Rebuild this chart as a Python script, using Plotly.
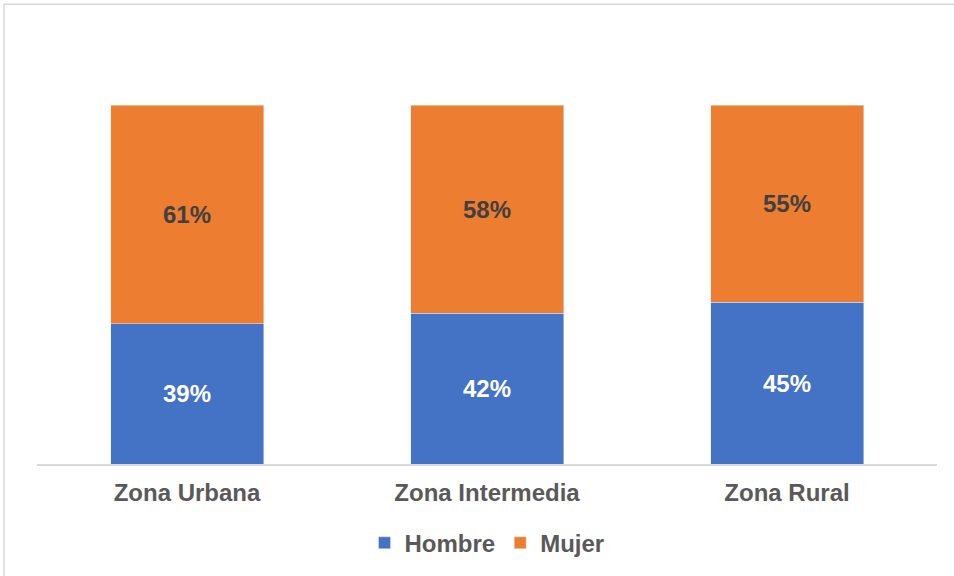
import plotly.graph_objects as go

categories = ["Zona Urbana", "Zona Intermedia", "Zona Rural"]
hombre = [39, 42, 45]
mujer = [61, 58, 55]
hombre_labels = ["39%", "42%", "45%"]
mujer_labels = ["61%", "58%", "55%"]

FONT = "Liberation Sans, Arial, sans-serif"

fig = go.Figure()
fig.add_trace(go.Bar(
    name="<b>Hombre</b>", x=categories, y=hombre, marker_color="#4472C4",
    text=hombre_labels, textposition="inside", insidetextanchor="middle",
    textfont=dict(family=FONT, size=24, color="#FFFFFF"),
    texttemplate="<b>%{text}</b>", width=0.51,
))
fig.add_trace(go.Bar(
    name="<b>Mujer</b>", x=categories, y=mujer, marker_color="#ED7D31",
    text=mujer_labels, textposition="inside", insidetextanchor="middle",
    textfont=dict(family=FONT, size=24, color="#404040"),
    texttemplate="<b>%{text}</b>", width=0.51,
))

fig.update_layout(
    barmode="stack",
    width=954, height=576,
    margin=dict(l=37, r=17, t=105, b=112, autoexpand=False),
    paper_bgcolor="white", plot_bgcolor="white",
    font=dict(family=FONT, color="#595959"),
    uniformtext=dict(minsize=8, mode="show"),
    legend=dict(orientation="h", x=0.5, xanchor="center",
                yref="container", y=0.057, yanchor="middle",
                font=dict(size=24, color="#595959"), itemwidth=30,
                traceorder="normal"),
    xaxis=dict(showline=True, linecolor="#D9D9D9", linewidth=2, automargin=False,
               ticks="outside", ticklen=6, tickcolor="rgba(0,0,0,0)",
               tickfont=dict(size=24, color="#595959", family=FONT),
               tickprefix="<b>", ticksuffix="</b>"),
    yaxis=dict(range=[0, 100], visible=False, showgrid=False, automargin=False),
    shapes=[dict(type="rect", xref="paper", yref="paper",
                 x0=-0.0367, x1=1.05, y0=-0.35, y1=1.2807,
                 line=dict(color="#D9D9D9", width=1.5), fillcolor="rgba(0,0,0,0)")],
)
fig.write_html("out.html", config={"displayModeBar": False},
               post_script="document.body.style.margin='0px';")
